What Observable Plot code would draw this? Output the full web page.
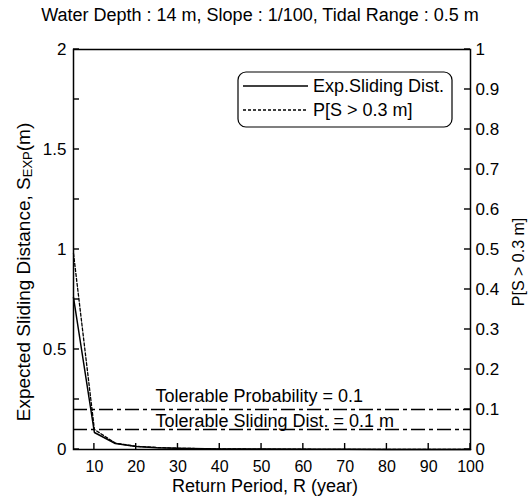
<!DOCTYPE html>
<html><head><meta charset="utf-8">
<script src="https://cdn.jsdelivr.net/npm/d3@7"></script>
<script src="https://cdn.jsdelivr.net/npm/@observablehq/plot@0.6"></script>
<style>
body{margin:0;background:#fff;font-family:"Liberation Sans",Arial,sans-serif;color:#000}
#title{height:30px;width:529px;position:relative}
#title span{position:absolute;left:260px;top:5px;transform:translateX(-50%);font-size:18px;white-space:nowrap}
#chart svg{display:block}
</style></head><body>
<div id="title"><span>Water Depth : 14 m, Slope : 1/100, Tidal Range : 0.5 m</span></div>
<div id="chart"></div>
<script>
// Return period R (year)
const returnPeriod = [5, 10, 15, 20, 25, 30, 40, 50, 60, 70, 80, 90, 100];
// Expected sliding distance S_EXP (m) — left axis
const expSliding   = [0.76, 0.085, 0.03, 0.015, 0.009, 0.006, 0.003, 0.002, 0.0012, 0.0008, 0.0005, 0.0004, 0.0003];
// Probability P[S > 0.3 m] — right axis
const probExceed   = [0.49, 0.05, 0.016, 0.008, 0.005, 0.003, 0.0015, 0.001, 0.0006, 0.0004, 0.0003, 0.0002, 0.0002];

const xTicks      = [10, 20, 30, 40, 50, 60, 70, 80, 90, 100];
const leftTicks   = [0, 0.5, 1, 1.5, 2];
const leftMinor   = [0.25, 0.75, 1.25, 1.75];
const rightTicks  = [0, 0.1, 0.2, 0.3, 0.4, 0.5, 0.6, 0.7, 0.8, 0.9, 1];

const tolerableProb = 0.1;   // right axis
const tolerableDist = 0.1;   // left axis (m)
const annotations = ["Tolerable Probability = 0.1", "Tolerable Sliding Dist. = 0.1 m"];
const legendLabels = ["Exp.Sliding Dist.", "P[S > 0.3 m]"];
const xLabel = "Return Period, R (year)";
const rightLabel = "P[S > 0.3 m]";

const ratio = 2; // left domain [0,2] vs right domain [0,1]
const data = returnPeriod.map((r, i) => ({r, s: expSliding[i], p: probExceed[i] * ratio}));
const annX = 24.6;
const T = 6; // tick length

const W = 529, H = 471;
const mL = 73, mR = 59, mT = 19, mB = 52;
const plot = Plot.plot({
  width: W, height: H,
  marginTop: mT, marginBottom: mB, marginLeft: mL, marginRight: mR,
  style: {fontFamily: "'Liberation Sans', Arial, sans-serif", fontSize: "17px", color: "#000", background: "#fff", overflow: "visible"},
  x: {domain: [5, 100]},
  y: {domain: [0, 2]},
  marks: [
    Plot.axisY(leftTicks, {anchor: "left", tickSize: 0, tickPadding: 7, tickFormat: d => String(d), label: null}),
    Plot.axisY(rightTicks.map(p => p * ratio), {anchor: "right", tickSize: 0, tickPadding: 5, tickFormat: d => String(Math.round(d / ratio * 10) / 10), label: null}),
    Plot.axisX(xTicks, {anchor: "bottom", tickSize: 0, tickPadding: 11, fontSize: 16, label: null}),
    Plot.ruleY([tolerableProb * ratio, tolerableDist], {stroke: "#000", strokeWidth: 1.3, strokeDasharray: "14,4,4,4"}),
    Plot.line(data, {x: "r", y: "s", stroke: "#000", strokeWidth: 1.5}),
    Plot.line(data, {x: "r", y: "p", stroke: "#000", strokeWidth: 1.3, strokeDasharray: "3,2"}),
    Plot.text([annotations[0]], {x: annX, y: tolerableProb * ratio, dy: -8, textAnchor: "start", lineAnchor: "bottom", fontSize: 18}),
    Plot.text([annotations[1]], {x: annX, y: tolerableDist, dy: -3, textAnchor: "start", lineAnchor: "bottom", fontSize: 18}),
    Plot.frame({stroke: "#000", strokeWidth: 1.5})
  ]
});
document.getElementById("chart").appendChild(plot);

const svg = d3.select(plot);
const xs = plot.scale("x"), ys = plot.scale("y");
const x0 = xs.apply(xs.domain[0]), x1 = xs.apply(xs.domain[1]);
const y0 = ys.apply(ys.domain[0]);
// inward ticks drawn through the plot's own scales
const tg = svg.append("g").attr("stroke", "#000").attr("stroke-width", 1.4);
leftTicks.concat(leftMinor).forEach(v => {
  const y = ys.apply(v);
  tg.append("line").attr("x1", x0).attr("x2", x0 + T).attr("y1", y).attr("y2", y);
});
rightTicks.forEach(p => {
  const y = ys.apply(p * ratio);
  tg.append("line").attr("x1", x1 - T).attr("x2", x1).attr("y1", y).attr("y2", y);
});
xTicks.forEach(v => {
  const x = xs.apply(v);
  tg.append("line").attr("x1", x).attr("x2", x).attr("y1", y0 - T).attr("y2", y0);
});
// x label
svg.append("text").attr("x", 265).attr("y", 456).attr("text-anchor", "middle")
  .attr("dominant-baseline", "central").attr("font-size", 18).text(xLabel);
// left y label with subscript
const yl = svg.append("text").attr("transform", "translate(23,242) rotate(-90)")
  .attr("text-anchor", "middle").attr("dominant-baseline", "central").attr("font-size", 19);
yl.append("tspan").text("Expected Sliding Distance, S");
yl.append("tspan").attr("font-size", 13).attr("dy", 4).text("EXP");
yl.append("tspan").attr("dy", -4).text("(m)");
// right y label
svg.append("text").attr("transform", "translate(518,232) rotate(-90)")
  .attr("text-anchor", "middle").attr("dominant-baseline", "central").attr("font-size", 16).text(rightLabel);
// legend
const lg = svg.append("g");
lg.append("rect").attr("x", 238).attr("y", 42).attr("width", 214).attr("height", 55)
  .attr("rx", 8).attr("fill", "#fff").attr("stroke", "#000").attr("stroke-width", 1.2);
lg.append("line").attr("x1", 243).attr("x2", 308).attr("y1", 56).attr("y2", 56).attr("stroke", "#000").attr("stroke-width", 1.5);
lg.append("line").attr("x1", 243).attr("x2", 308).attr("y1", 80).attr("y2", 80).attr("stroke", "#000").attr("stroke-width", 1.3).attr("stroke-dasharray", "3,2");
lg.append("text").attr("x", 313).attr("y", 56).attr("text-anchor", "start").attr("dominant-baseline", "central").attr("font-size", 18).text(legendLabels[0]);
lg.append("text").attr("x", 313).attr("y", 80).attr("text-anchor", "start").attr("dominant-baseline", "central").attr("font-size", 18).text(legendLabels[1]);
</script>
</body></html>
